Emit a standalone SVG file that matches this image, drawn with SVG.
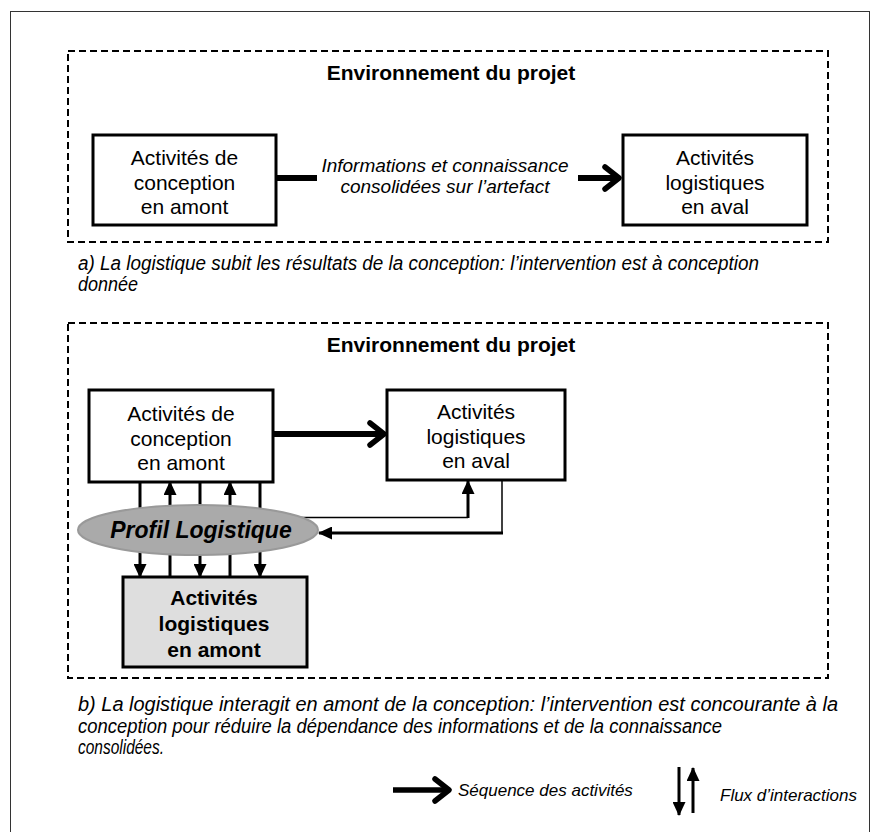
<svg xmlns="http://www.w3.org/2000/svg" width="881" height="832" viewBox="0 0 881 832">
<style>
text{font-family:"Liberation Sans",Arial,sans-serif;fill:#000}
.t{font-size:21px;text-anchor:middle}
.tb{font-size:21px;font-weight:bold;text-anchor:middle}
.it{font-size:19px;font-style:italic;text-anchor:middle}
.cap{font-size:20px;font-style:italic}
.leg{font-size:17px;font-style:italic}
.box{fill:#fff;stroke:#000;stroke-width:3}
.env{fill:none;stroke:#000;stroke-width:2;stroke-dasharray:7 4}
.thick{fill:none;stroke:#000;stroke-width:6}
.med{fill:none;stroke:#000;stroke-width:3}
.thin{fill:none;stroke:#000;stroke-width:1.5}
</style>
<defs>
<marker id="chev" markerUnits="userSpaceOnUse" viewBox="0 0 26 26" refX="19" refY="13" markerWidth="26" markerHeight="26" orient="auto" overflow="visible">
<path d="M6,2 L20,13 L6,24" fill="none" stroke="#000" stroke-width="5.5" stroke-linejoin="round" stroke-linecap="round"/>
</marker>
<marker id="tri" markerUnits="userSpaceOnUse" viewBox="0 0 14 13" refX="13" refY="6.5" markerWidth="14" markerHeight="13" orient="auto">
<path d="M0,0 L14,6.5 L0,13 z" fill="#000"/>
</marker>
</defs>
<rect x="10.5" y="11.5" width="859" height="830" fill="none" stroke="#333" stroke-width="1"/>

<g id="env1">
<rect class="env" x="68" y="51" width="760" height="191"/>
<text class="tb" x="451" y="80">Environnement du projet</text>
</g>
<g id="env2">
<rect class="env" x="68" y="323" width="760" height="355"/>
<text class="tb" x="451" y="352">Environnement du projet</text>
</g>

<g id="connectors">
<path class="thick" d="M276,178 H317"/>
<path class="thick" d="M578,178 H618" marker-end="url(#chev)"/>
<path class="thick" d="M273,434 H383" marker-end="url(#chev)"/>
<path class="med" d="M140,482 V577" marker-end="url(#tri)"/>
<path class="med" d="M170,577 V482" marker-end="url(#tri)"/>
<path class="med" d="M200,482 V577" marker-end="url(#tri)"/>
<path class="med" d="M230,577 V482" marker-end="url(#tri)"/>
<path class="med" d="M260,482 V577" marker-end="url(#tri)"/>
<path class="thin" d="M300,517.5 H468"/>
<path class="med" d="M468,518 V481" marker-end="url(#tri)"/>
<path class="thin" d="M502,481 V533"/>
<path class="med" d="M503,533 H319" marker-end="url(#tri)"/>
</g>

<g id="conc1">
<rect class="box" x="93" y="135" width="183" height="90"/>
<text class="t" x="184.5" y="165">Activités de</text>
<text class="t" x="184.5" y="189.5">conception</text>
<text class="t" x="184.5" y="214">en amont</text>
</g>
<g id="label1">
<text class="it" x="445" y="172">Informations et connaissance</text>
<text class="it" x="445" y="193">consolidées sur l’artefact</text>
</g>
<g id="aval1">
<rect class="box" x="623" y="135" width="184" height="90"/>
<text class="t" x="715" y="165">Activités</text>
<text class="t" x="715" y="189.5">logistiques</text>
<text class="t" x="715" y="214">en aval</text>
</g>

<g id="caption-a">
<text class="cap" x="78" y="270" textLength="681" lengthAdjust="spacingAndGlyphs">a) La logistique subit les résultats de la conception: l’intervention est à conception</text>
<text class="cap" x="78" y="291" textLength="60" lengthAdjust="spacingAndGlyphs">donnée</text>
</g>

<g id="conc2">
<rect class="box" x="89" y="390" width="184" height="92"/>
<text class="t" x="181" y="421">Activités de</text>
<text class="t" x="181" y="445.5">conception</text>
<text class="t" x="181" y="470">en amont</text>
</g>
<g id="aval2">
<rect class="box" x="387" y="390" width="178" height="90"/>
<text class="t" x="476" y="419">Activités</text>
<text class="t" x="476" y="443.5">logistiques</text>
<text class="t" x="476" y="468">en aval</text>
</g>
<g id="profil">
<ellipse cx="198" cy="530" rx="120" ry="25" fill="#aaaaaa" stroke="#999" stroke-width="2"/>
<text x="201" y="538" style="font-size:23px;font-weight:bold;font-style:italic;text-anchor:middle">Profil Logistique</text>
</g>
<g id="amont2">
<rect x="123" y="577" width="184" height="90" fill="#dedede" stroke="#000" stroke-width="3"/>
<text class="tb" x="214" y="605">Activités</text>
<text class="tb" x="214" y="631">logistiques</text>
<text class="tb" x="214" y="657">en amont</text>
</g>

<g id="caption-b">
<text class="cap" x="78" y="711" textLength="760" lengthAdjust="spacingAndGlyphs">b) La logistique interagit en amont de la conception: l’intervention est concourante à la</text>
<text class="cap" x="78" y="733" textLength="644" lengthAdjust="spacingAndGlyphs">conception pour réduire la dépendance des informations et de la connaissance</text>
<text class="cap" x="78" y="754" textLength="86" lengthAdjust="spacingAndGlyphs">consolidées.</text>
</g>

<g id="legend">
<path d="M393,790 H448" fill="none" stroke="#000" stroke-width="5.5" marker-end="url(#chev)"/>
<text class="leg" x="458" y="796">Séquence des activités</text>
<path class="med" d="M679,767 V815" marker-end="url(#tri)"/>
<path class="med" d="M693,813 V768" marker-end="url(#tri)"/>
<text class="leg" x="720" y="801">Flux d’interactions</text>
</g>
</svg>
